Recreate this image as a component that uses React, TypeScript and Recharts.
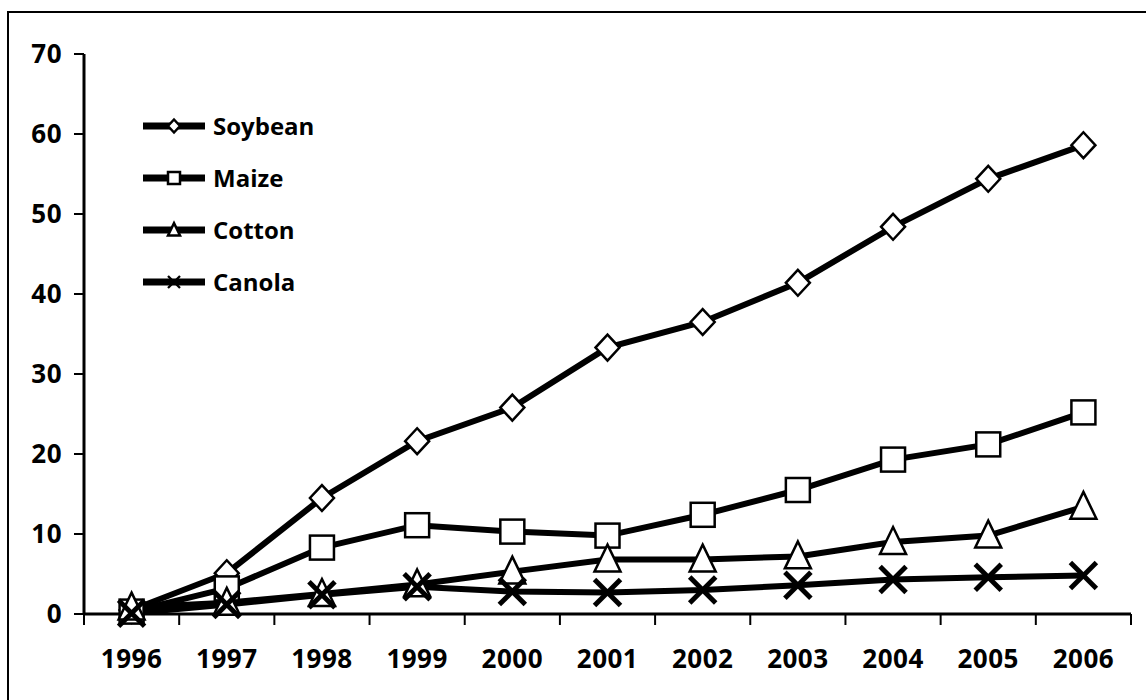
import React from 'react';
import { LineChart, Line, XAxis, YAxis, Legend } from 'recharts';

const years = ['1996', '1997', '1998', '1999', '2000', '2001', '2002', '2003', '2004', '2005', '2006'];
const soybean = [0.5, 5.1, 14.5, 21.6, 25.8, 33.3, 36.5, 41.4, 48.4, 54.4, 58.6];
const maize = [0.3, 3.2, 8.3, 11.1, 10.3, 9.8, 12.4, 15.5, 19.3, 21.2, 25.2];
const cotton = [0.8, 1.4, 2.5, 3.7, 5.3, 6.8, 6.8, 7.2, 9.0, 9.8, 13.4];
const canola = [0.1, 1.2, 2.4, 3.4, 2.8, 2.7, 3.0, 3.6, 4.3, 4.6, 4.8];
const yTicks = [0, 10, 20, 30, 40, 50, 60, 70];

const data = years.map((year, i) => ({
  year,
  soybean: soybean[i],
  maize: maize[i],
  cotton: cotton[i],
  canola: canola[i],
}));

const FONT = '"Open Sans", sans-serif';

type Shape = 'diamond' | 'square' | 'triangle' | 'cross';

function Marker({ cx, cy, shape, s }: { cx: number; cy: number; shape: Shape; s: number }) {
  if (shape === 'diamond') {
    return (
      <path
        d={`M${cx},${cy - s * 1.08}L${cx + s},${cy}L${cx},${cy + s * 1.08}L${cx - s},${cy}Z`}
        fill="#fff"
        stroke="#000"
        strokeWidth={2.5}
      />
    );
  }
  if (shape === 'square') {
    return <rect x={cx - s} y={cy - s} width={s * 2} height={s * 2} fill="#fff" stroke="#000" strokeWidth={2.5} />;
  }
  if (shape === 'triangle') {
    return (
      <path
        d={`M${cx},${cy - s * 1.15}L${cx + s},${cy + s * 0.92}L${cx - s},${cy + s * 0.92}Z`}
        fill="#fff"
        stroke="#000"
        strokeWidth={2.5}
      />
    );
  }
  return (
    <g stroke="#000" strokeWidth={s * 0.38}>
      <line x1={cx - s} y1={cy - s} x2={cx + s} y2={cy + s} />
      <line x1={cx - s} y1={cy + s} x2={cx + s} y2={cy - s} />
    </g>
  );
}

const makeDot = (shape: Shape, s: number) => (props: any) => {
  const { cx, cy, index } = props;
  if (cx == null || cy == null) return <g key={index} />;
  return (
    <g key={`${shape}-${index}`}>
      <Marker cx={cx} cy={cy} shape={shape} s={s} />
    </g>
  );
};

const series: { key: string; name: string; shape: Shape; size: number }[] = [
  { key: 'soybean', name: 'Soybean', shape: 'diamond', size: 12 },
  { key: 'maize', name: 'Maize', shape: 'square', size: 12 },
  { key: 'cotton', name: 'Cotton', shape: 'triangle', size: 13 },
  { key: 'canola', name: 'Canola', shape: 'cross', size: 13 },
];

const XTick = (props: any) => {
  const { x, y, payload, index } = props;
  const half = payload?.offset || 47.6;
  const last = index === years.length - 1;
  return (
    <g>
      <line x1={x - half} x2={x - half} y1={y} y2={y + 11} stroke="#000" strokeWidth={2} />
      {last && <line x1={x + half} x2={x + half} y1={y} y2={y + 11} stroke="#000" strokeWidth={2} />}
      <text
        x={x}
        y={y + 54}
        textAnchor="middle"
        fontFamily={FONT}
        fontWeight={700}
        fontSize={26}
        letterSpacing={0.5}
        fill="#000"
      >
        {payload.value}
      </text>
    </g>
  );
};

const renderLegend = () => (
  <div>
    {series.map((s) => (
      <div key={s.key} style={{ display: 'flex', alignItems: 'center', height: 52 }}>
        <svg width={70} height={30}>
          <line x1={0} x2={62} y1={15} y2={15} stroke="#000" strokeWidth={7} />
          <Marker cx={31} cy={15} shape={s.shape} s={6} />
        </svg>
        <span style={{ fontFamily: FONT, fontWeight: 700, fontSize: 24, color: '#000', lineHeight: '30px' }}>
          {s.name}
        </span>
      </div>
    ))}
  </div>
);

export default function App() {
  return (
    <div
      style={{ position: 'absolute', left: 0, top: 0, width: 1146, height: 700, background: '#fff', overflow: 'hidden' }}
    >
      <div
        style={{
          position: 'absolute',
          left: 7,
          top: 11,
          width: 1160,
          height: 720,
          border: '2px solid #000',
          boxSizing: 'border-box',
        }}
      />
      <div style={{ position: 'absolute', left: 0, top: 0 }}>
        <LineChart width={1146} height={700} data={data} margin={{ top: 54, right: 15, bottom: 0, left: 0 }}>
          <XAxis
            dataKey="year"
            scale="band"
            stroke="#000"
            strokeWidth={3}
            tickLine={false}
            tickSize={0}
            tickMargin={0}
            height={86}
            interval={0}
            tick={<XTick />}
          />
          <XAxis
            xAxisId="top"
            dataKey="year"
            scale="band"
            orientation="top"
            stroke="#000"
            strokeWidth={3}
            tick={false}
            tickLine={false}
            height={0}
          />
          <YAxis
            domain={[0, 70]}
            ticks={yTicks}
            width={84}
            stroke="#000"
            strokeWidth={3}
            tickSize={10}
            tickMargin={12}
            tickLine={{ stroke: '#000', strokeWidth: 2 }}
            tick={{ fill: '#000', fontFamily: FONT, fontWeight: 700, fontSize: 26, letterSpacing: 0.5 }}
            interval={0}
          />
          <YAxis
            yAxisId="right"
            orientation="right"
            domain={[0, 70]}
            stroke="#000"
            strokeWidth={3}
            tick={false}
            tickLine={false}
            width={0}
          />
          <Legend
            layout="vertical"
            align="center"
            verticalAlign="middle"
            content={renderLegend}
            wrapperStyle={{ left: 143, top: 100, width: 260 }}
          />
          {series.map((s) => (
            <Line
              key={s.key}
              dataKey={s.key}
              name={s.name}
              stroke="#000"
              strokeWidth={6}
              dot={makeDot(s.shape, s.size)}
              activeDot={false}
              isAnimationActive={false}
            />
          ))}
        </LineChart>
      </div>
    </div>
  );
}
